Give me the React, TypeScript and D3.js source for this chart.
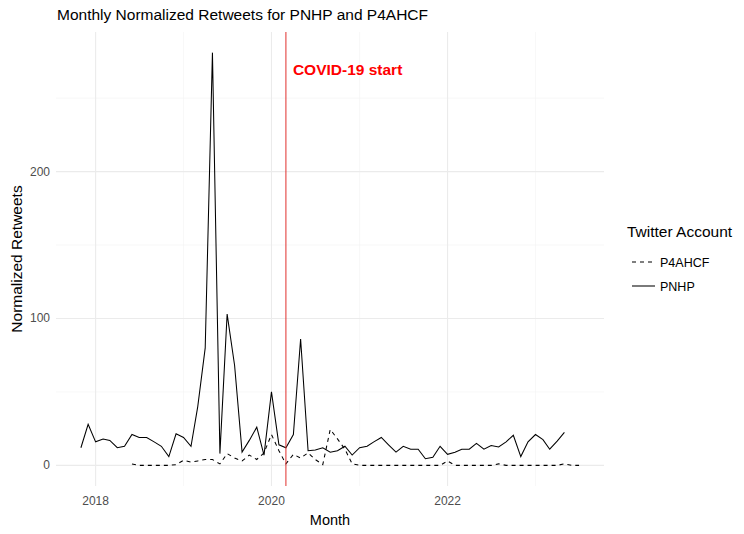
import React from "react";
import * as d3 from "d3";

// monthly normalized retweets
const pnhpStart = "2017-11-01";
const pnhpValues = [
  12, 28, // 2017 Nov-Dec
  16, 18, 17, 12, 13, 21, 19, 19, 16, 13, 6, 21.5, // 2018
  19, 13, 40, 80, 281, 8, 103, 68, 9, 17, 26, 7, // 2019
  50, 14, 12, 21, 86, 10, 10.5, 12, 9, 10, 13, 7, // 2020
  12, 13, 16, 19, 14, 9, 13, 11, 11, 4.5, 5.5, 13, // 2021
  7.5, 9, 11, 11, 15, 11, 13.5, 12.5, 16, 20.5, 6, 16, // 2022
  21, 17.5, 11, 16.5, 22.5, // 2023
];

const p4Start = "2018-06-01";
const p4Values = [
  1, 0, 0, 0, 0, 0, 0.5, // 2018 Jun-Dec
  3.4, 2.2, 3, 4, 4, 1, 8, 5, 3, 7, 4, 8.5, // 2019
  21, 10, 1, 7.5, 5, 8.5, 4, 0.5, 24.5, 18, 11, 1, // 2020
  0, 0, 0, 0, 0, 0, 0, 0, 0, 0, 0, 0, // 2021
  3, 0, 0, 0, 0, 0, 0, 1, 0, 0, 0, 0, // 2022
  0, 0, 0, 0, 1, 0, 0, // 2023
];

const xMajorTicks = ["2018-01-01", "2020-01-01", "2022-01-01"];
const xMinorTicks = ["2019-01-01", "2021-01-01", "2023-01-01"];
const yMajorTicks = [0, 100, 200];
const yMinorTicks = [50, 150, 250];
const covidStart = "2020-03-01";

const legendItems = [
  { label: "P4AHCF", dash: "4,4" },
  { label: "PNHP", dash: "none" },
];

const parse = d3.timeParse("%Y-%m-%d");

function toSeries(start: string, values: number[]) {
  const s = parse(start)!;
  return values.map((v, i) => ({ date: d3.timeMonth.offset(s, i), value: v }));
}

const pnhp = toSeries(pnhpStart, pnhpValues);
const p4 = toSeries(p4Start, p4Values);

const W = 744;
const H = 534;
const left = 56;
const right = 604;
const top = 32;
const bottom = 486;

export default function App() {
  const all = [...pnhp, ...p4];
  const [d0, d1] = d3.extent(all, (d) => d.date) as [Date, Date];
  const span = +d1 - +d0;
  const xScale = d3
    .scaleTime()
    .domain([new Date(+d0 - span * 0.05), new Date(+d1 + span * 0.05)])
    .range([left, right]);

  const yMax = d3.max(all, (d) => d.value)!;
  const yScale = d3
    .scaleLinear()
    .domain([-yMax * 0.05, yMax * 1.05])
    .range([bottom, top]);

  const myLine = d3
    .line<{ date: Date; value: number }>()
    .x((d) => xScale(d.date))
    .y((d) => yScale(d.value));

  const font = "'Liberation Sans', Arial, sans-serif";
  const covidX = xScale(parse(covidStart)!);

  return (
    <svg width={W} height={H} style={{ position: "absolute", left: 0, top: 0, background: "#fff" }}>
      {/* grid */}
      {yMinorTicks.map((t) => (
        <line key={"ym" + t} x1={left} x2={right} y1={yScale(t)} y2={yScale(t)} stroke="#f3f3f3" strokeWidth={0.6} />
      ))}
      {xMinorTicks.map((t) => (
        <line key={"xm" + t} x1={xScale(parse(t)!)} x2={xScale(parse(t)!)} y1={top} y2={bottom} stroke="#f3f3f3" strokeWidth={0.6} />
      ))}
      {yMajorTicks.map((t) => (
        <line key={"yM" + t} x1={left} x2={right} y1={yScale(t)} y2={yScale(t)} stroke="#ebebeb" strokeWidth={1.1} />
      ))}
      {xMajorTicks.map((t) => (
        <line key={"xM" + t} x1={xScale(parse(t)!)} x2={xScale(parse(t)!)} y1={top} y2={bottom} stroke="#ebebeb" strokeWidth={1.1} />
      ))}

      {/* series */}
      <path d={myLine(p4)!} fill="none" stroke="#000" strokeWidth={1.05} strokeDasharray="4,4" />
      <path d={myLine(pnhp)!} fill="none" stroke="#000" strokeWidth={1.05} />

      {/* covid marker */}
      <line x1={covidX} x2={covidX} y1={top} y2={bottom} stroke="#e0302c" strokeWidth={1} />
      <text x={covidX + 7} y={75} fill="#f00" fontFamily={font} fontWeight="bold" fontSize={15.5}>
        COVID-19 start
      </text>

      {/* axis tick labels */}
      {yMajorTicks.map((t) => (
        <text key={"yl" + t} x={50} y={yScale(t) + 4} textAnchor="end" fill="#4d4d4d" fontFamily={font} fontSize={12}>
          {t}
        </text>
      ))}
      {xMajorTicks.map((t) => (
        <text key={"xl" + t} x={xScale(parse(t)!)} y={505} textAnchor="middle" fill="#4d4d4d" fontFamily={font} fontSize={12}>
          {d3.timeFormat("%Y")(parse(t)!)}
        </text>
      ))}

      {/* titles */}
      <text x={57} y={20} fontFamily={font} fontSize={15.5} fill="#000">
        Monthly Normalized Retweets for PNHP and P4AHCF
      </text>
      <text x={(left + right) / 2} y={525} textAnchor="middle" fontFamily={font} fontSize={14.5} fill="#000">
        Month
      </text>
      <text
        transform={`translate(22,${(top + bottom) / 2}) rotate(-90)`}
        textAnchor="middle"
        fontFamily={font}
        fontSize={15.5}
        fill="#000"
      >
        Normalized Retweets
      </text>

      {/* legend */}
      <text x={627} y={237} fontFamily={font} fontSize={15.5} fill="#000">
        Twitter Account
      </text>
      {legendItems.map((item, i) => (
        <g key={item.label} transform={`translate(0,${262 + i * 24})`}>
          <line x1={632} x2={655} y1={0} y2={0} stroke="#000" strokeWidth={1.05} strokeDasharray={item.dash} />
          <text x={660} y={4.5} fontFamily={font} fontSize={12.5} fill="#000">
            {item.label}
          </text>
        </g>
      ))}
    </svg>
  );
}
